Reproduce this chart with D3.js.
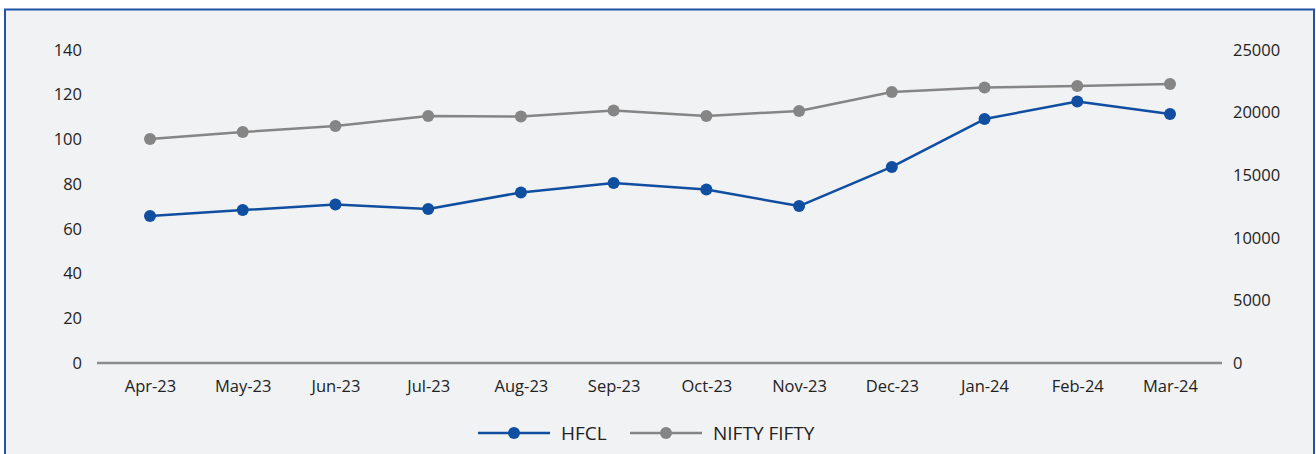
<!DOCTYPE html>
<html>
<head>
<meta charset="utf-8">
<script src="https://cdn.jsdelivr.net/npm/d3@7"></script>
<style>
  body { margin: 0; background: #fff; }
  svg { display: block; font-family: "Open Sans", "Noto Sans", sans-serif; }
</style>
</head>
<body>
<svg width="1316" height="454"></svg>
<script>
var months = ["Apr-23","May-23","Jun-23","Jul-23","Aug-23","Sep-23","Oct-23","Nov-23","Dec-23","Jan-24","Feb-24","Mar-24"];
var hfcl = [65.7, 68.4, 70.9, 68.9, 76.3, 80.5, 77.6, 70.2, 87.7, 109.1, 117, 111.4];
var nifty = [17890, 18450, 18930, 19730, 19690, 20170, 19730, 20130, 21650, 22000, 22120, 22280];
var leftTicks = [0, 20, 40, 60, 80, 100, 120, 140];
var rightTicks = [0, 5000, 10000, 15000, 20000, 25000];

var svg = d3.select("svg"),
    width = +svg.attr("width"),
    height = +svg.attr("height");

// panel + border
svg.append("rect")
    .attr("x", 5).attr("y", 9.5)
    .attr("width", 1309).attr("height", 470)
    .attr("fill", "#f1f2f4")
    .attr("stroke", "#1f55a5")
    .attr("stroke-width", 2);

var x = d3.scalePoint()
    .domain(months)
    .range([150, 1170]);
var yL = d3.scaleLinear().domain([0, 140]).range([363, 50]);
var yR = d3.scaleLinear().domain([0, 25000]).range([363, 50]);

var tickFont = 16.5;

function styleAxis(g) {
  g.attr("font-family", null).attr("font-size", tickFont);
  g.select(".domain").remove();
  g.selectAll("text").attr("fill", "#222");
}

svg.append("g")
    .attr("transform", "translate(82,0)")
    .call(d3.axisLeft(yL).tickValues(leftTicks).tickSize(0).tickPadding(0))
    .call(styleAxis);

svg.append("g")
    .attr("transform", "translate(1233,0)")
    .call(d3.axisRight(yR).tickValues(rightTicks).tickFormat(d3.format("d")).tickSize(0).tickPadding(0))
    .call(styleAxis);

// x axis line
svg.append("line")
    .attr("x1", 97).attr("x2", 1222)
    .attr("y1", yL(0)).attr("y2", yL(0))
    .attr("stroke", "#8c8c8c")
    .attr("stroke-width", 2.5);

svg.append("g")
    .attr("transform", "translate(0," + yL(0) + ")")
    .call(d3.axisBottom(x).tickSize(0).tickPadding(17))
    .call(styleAxis);

var series = [
  {name: "NIFTY FIFTY", values: nifty, y: yR, color: "#858585"},
  {name: "HFCL", values: hfcl, y: yL, color: "#0f4ea0"}
];

series.forEach(function(s) {
  var line = d3.line()
      .x(function(d, i) { return x(months[i]); })
      .y(function(d) { return s.y(d); });
  svg.append("path")
      .datum(s.values)
      .attr("fill", "none")
      .attr("stroke", s.color)
      .attr("stroke-width", 2.5)
      .attr("stroke-linejoin", "round")
      .attr("d", line);
  svg.append("g")
      .attr("fill", s.color)
    .selectAll("circle")
    .data(s.values)
    .enter().append("circle")
      .attr("cx", function(d, i) { return x(months[i]); })
      .attr("cy", function(d) { return s.y(d); })
      .attr("r", 6);
});

// legend
var legend = [
  {name: "HFCL", color: "#0f4ea0", x: 478},
  {name: "NIFTY FIFTY", color: "#858585", x: 630}
];
var lg = svg.append("g").selectAll("g")
    .data(legend)
    .enter().append("g")
    .attr("transform", function(d) { return "translate(" + d.x + ",433)"; });
lg.append("line")
    .attr("x1", 0).attr("x2", 72)
    .attr("stroke", function(d) { return d.color; })
    .attr("stroke-width", 2.5);
lg.append("circle")
    .attr("cx", 36).attr("r", 6)
    .attr("fill", function(d) { return d.color; });
lg.append("text")
    .attr("x", 83)
    .attr("dy", "0.35em")
    .attr("font-size", 19)
    .attr("fill", "#222")
    .text(function(d) { return d.name; });
</script>
</body>
</html>
